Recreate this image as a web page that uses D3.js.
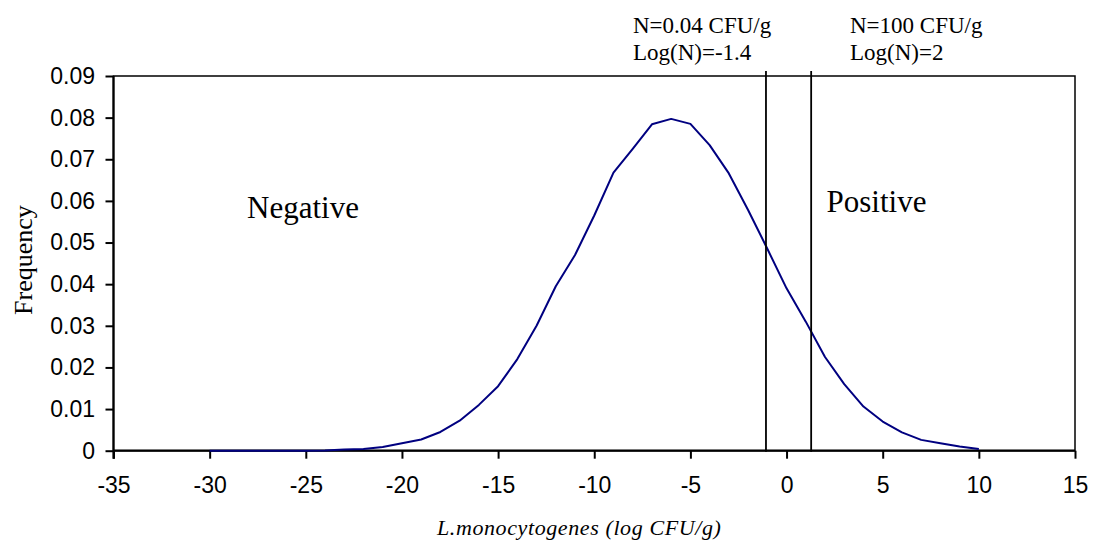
<!DOCTYPE html>
<html>
<head>
<meta charset="utf-8">
<script src="https://cdn.jsdelivr.net/npm/d3@7"></script>
<style>
body { margin: 0; background: #fff; }
svg { display: block; }
</style>
</head>
<body>
<svg id="chart" width="1096" height="543"></svg>
<script>
const logCFU = [-30,-29,-28,-27,-26,-25,-24,-23,-22,-21,-20,-19,-18,-17,-16,-15,-14,-13,-12,-11,-10,-9,-8,-7,-6,-5,-4,-3,-2,-1,0,1,2,3,4,5,6,7,8,9,10];
const frequency = [0,0,0,0,0,0,0.00005,0.0003,0.0004,0.0009,0.0018,0.0027,0.0045,0.0072,0.011,0.0155,0.022,0.030,0.0395,0.047,0.0565,0.0668,0.0725,0.0784,0.0797,0.0785,0.0734,0.0666,0.0578,0.0485,0.039,0.031,0.0225,0.016,0.0106,0.007,0.0044,0.0026,0.0018,0.001,0.0004];
const xTicks = [-35,-30,-25,-20,-15,-10,-5,0,5,10,15];
const xTickLabels = ["-35","-30","-25","-20","-15","-10","-5","0","5","10","15"];
const yTicks = [0,0.01,0.02,0.03,0.04,0.05,0.06,0.07,0.08,0.09];
const yTickLabels = ["0","0.01","0.02","0.03","0.04","0.05","0.06","0.07","0.08","0.09"];
const thresholds = [-1.07, 1.28];
const thresholdLabels = [["N=0.04 CFU/g","Log(N)=-1.4"],["N=100 CFU/g","Log(N)=2"]];
const regionLabels = ["Negative","Positive"];

const svg = d3.select("#chart");
const L = 113.5, R = 1075, T = 76, B = 450.7;
const x = d3.scaleLinear().domain([-35,15]).range([L,R]);
const y = d3.scaleLinear().domain([0,0.09]).range([B,T]);

// frame
svg.append("rect").attr("x",L).attr("y",T).attr("width",R-L).attr("height",B-T)
  .attr("fill","none").attr("stroke","#000").attr("stroke-width",1.5);

// axes
const yAxis = svg.append("g").attr("transform",`translate(${L},0)`)
  .call(d3.axisLeft(y).tickValues(yTicks).tickSize(8).tickPadding(10.5)
    .tickFormat((d,i) => yTickLabels[i]));
const xAxis = svg.append("g").attr("transform",`translate(0,${B})`)
  .call(d3.axisBottom(x).tickValues(xTicks).tickSize(8).tickPadding(18)
    .tickFormat((d,i) => xTickLabels[i]));
[yAxis,xAxis].forEach(g => {
  g.select(".domain").attr("stroke","#000").attr("stroke-width",2.2);
  g.selectAll(".tick line").attr("stroke","#000").attr("stroke-width",2);
  g.selectAll(".tick text").attr("fill","#000")
    .style("font-family","'Liberation Sans', Arial, sans-serif").style("font-size","23px");
});
xAxis.select(".domain").attr("d",`M${L},0H${R}`);
yAxis.select(".domain").attr("d",`M0,${B+8}V${T}`);

// curve
const line = d3.line().x((d,i)=>x(logCFU[i])).y(d=>y(d));
svg.append("path").datum(frequency).attr("d",line)
  .attr("fill","none").attr("stroke","#000080").attr("stroke-width",2).attr("stroke-linejoin","round");

// threshold lines
svg.selectAll(".thr").data(thresholds).enter().append("line")
  .attr("x1",d=>x(d)).attr("x2",d=>x(d)).attr("y1",71).attr("y2",B+1)
  .attr("stroke","#000").attr("stroke-width",1.8);

// threshold annotations
const annX = [633, 850];
thresholdLabels.forEach((lines,i) => {
  lines.forEach((t,j) => {
    svg.append("text").attr("x",annX[i]).attr("y",33+j*27).text(t)
      .style("font-family","'Liberation Serif','Times New Roman',serif").style("font-size","23px");
  });
});

// region labels
svg.append("text").attr("x",247).attr("y",217.7).text(regionLabels[0])
  .style("font-family","'Liberation Serif','Times New Roman',serif").style("font-size","31px");
svg.append("text").attr("x",826.5).attr("y",212.3).text(regionLabels[1])
  .style("font-family","'Liberation Serif','Times New Roman',serif").style("font-size","31px");

// axis titles
svg.append("text").attr("transform","translate(31.5,260) rotate(-90)").attr("text-anchor","middle")
  .text("Frequency")
  .style("font-family","'Liberation Serif','Times New Roman',serif").style("font-size","26px");
svg.append("text").attr("x",437).attr("y",535)
  .text("L.monocytogenes (log CFU/g)")
  .style("font-family","'Liberation Serif','Times New Roman',serif").style("font-size","22px")
  .style("font-style","italic").style("letter-spacing","0.6px");
</script>
</body>
</html>
